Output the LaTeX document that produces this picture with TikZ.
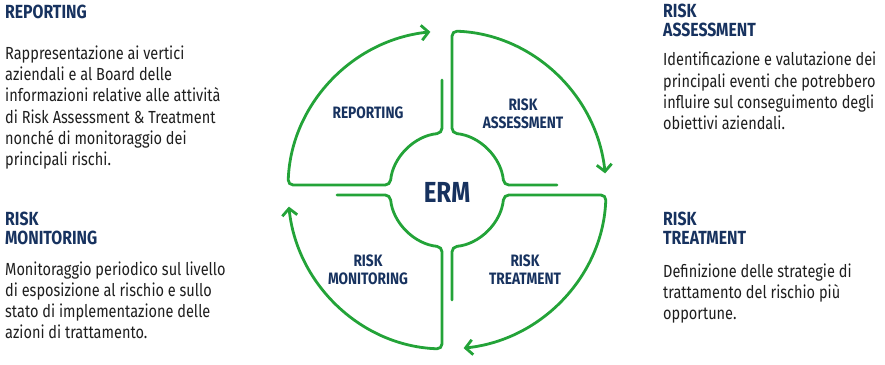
\documentclass[tikz,border=0pt]{standalone}
\usepackage{fontspec}
\setmainfont{Fira Sans}[FakeStretch=0.83]
\usepackage{tikz}
\usetikzlibrary{arrows.meta, positioning}
\definecolor{ermgreen}{HTML}{23A338}
\definecolor{ermnavy}{HTML}{17325F}
\definecolor{ermtext}{HTML}{1E1E1E}

\begin{document}
\begin{tikzpicture}[x=1pt, y=1pt,
    ring/.style={draw=ermgreen, line width=2.8pt, rounded corners=5pt, line cap=round},
    head/.style={anchor=base west, inner sep=0pt, align=left, text=ermnavy,
                 font=\fontsize{19}{19}\selectfont\bfseries},
    body/.style={anchor=base west, inner sep=0pt, align=left, text=ermtext,
                 font=\fontsize{17.5}{21.3}\selectfont},
    phase/.style={align=center, inner sep=0pt, text=ermnavy,
                  font=\fontsize{16.5}{18}\selectfont\bfseries},
  ]
  \useasboundingbox (0,0) rectangle (885,364);
  \coordinate (c) at (447,174);

  % wheel: one quarter, turned four times
  \foreach \k in {0,1,2,3}{
    \draw[ring, -{Straight Barb[length=7pt,width=15pt]}, shift={(c)}, rotate=-90*\k]
      (-5,110) -- (-5,56.78) arc[start angle=95.03, end angle=174.97, radius=57]
      -- (-158.92,5) arc[start angle=178.2, end angle=96, radius=159];
  }

  \node[phase] (erm) at (447,172) {\fontsize{29}{30}\selectfont ERM};
  \node[phase] (rep) at (368,251) {REPORTING};
  \node[phase] (ass) at (523,250) {RISK\\ASSESSMENT};
  \node[phase] (tre) at (525,94)  {RISK\\TREATMENT};
  \node[phase] (mon) at (368,94)  {RISK\\MONITORING};

  % side texts (anchored on the last baseline)
  \node[head] (reptitle) at (5,345) {REPORTING};
  \node[body] (repbody) at (5,198.2)
    {Rappresentazione ai vertici\\aziendali e al Board delle\\informazioni relative alle attività\\
     di Risk Assessment \& Treatment\\nonché di monitoraggio dei\\principali rischi.};
  \node[head] (asstitle) at (663,327) {RISK\\ASSESSMENT};
  \node[body] (assbody) at (663,234.1)
    {Identificazione e valutazione dei\\principali eventi che potrebbero\\
     influire sul conseguimento degli\\obiettivi aziendali.};
  \node[head] (montitle) at (5,119) {RISK\\MONITORING};
  \node[body] (monbody) at (5,25.1)
    {Monitoraggio periodico sul livello\\di esposizione al rischio e sullo\\
     stato di implementazione delle\\azioni di trattamento.};
  \node[head] (tretitle) at (663,119) {RISK\\TREATMENT};
  \node[body] (trebody) at (663,44.4)
    {Definizione delle strategie di\\trattamento del rischio più\\opportune.};
\end{tikzpicture}
\end{document}
